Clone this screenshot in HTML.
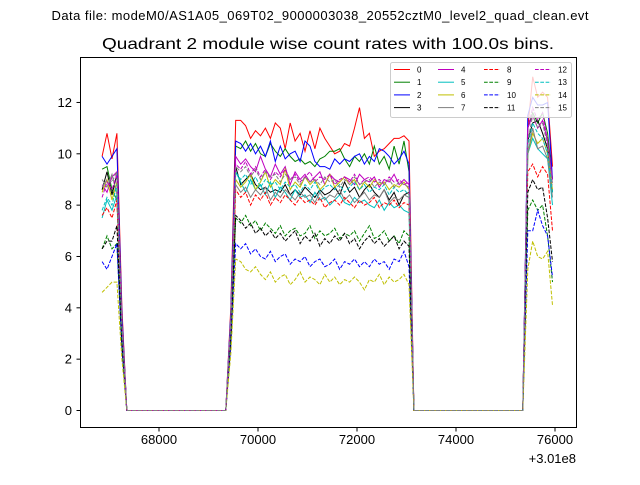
<!DOCTYPE html>
<html><head><meta charset="utf-8"><style>
body{margin:0;background:#fff;}
svg text{font-family:"Liberation Sans","DejaVu Sans",sans-serif;}
</style></head><body>
<svg id="chart" width="640" height="480" xmlns="http://www.w3.org/2000/svg">
<rect width="640" height="480" fill="#fff"/>
<text x="320" y="20" font-size="13" text-anchor="middle" textLength="537">Data file: modeM0/AS1A05_069T02_9000003038_20552cztM0_level2_quad_clean.evt</text>
<text x="328" y="49" font-size="16" text-anchor="middle" textLength="452" lengthAdjust="spacingAndGlyphs">Quadrant 2 module wise count rates with 100.0s bins.</text>
<g id="series"></g>
<rect x="80.5" y="57.5" width="496" height="370" fill="none" stroke="#000" stroke-width="1"/>
<g id="axes"></g>
<text x="576" y="463" font-size="13" text-anchor="end">+3.01e8</text>
<g id="legend"></g>
</svg>
<script>
const times=[66850,66950,67050,67150,67250,67350,69350,69450,69550,69650,69750,69850,69950,70050,70150,70250,70350,70450,70550,70650,70750,70850,70950,71050,71150,71250,71350,71450,71550,71650,71750,71850,71950,72050,72150,72250,72350,72450,72550,72650,72750,72850,72950,73050,73150,75350,75450,75550,75650,75750,75850,75950];
const xTicks=[68000,70000,72000,74000,76000];
const yTicks=[0,2,4,6,8,10,12];
const colors=["#ff0000","#008000","#0000ff","#000000","#bf00bf","#00bfbf","#bfbf00","#808080"];
const s0=[9.9,10.8,9.8,10.8,4.0,0,0,4.0,11.3,11.3,11.1,10.6,10.9,10.7,11.0,10.6,11.2,11.0,10.2,11.2,10.5,10.8,10.1,10.9,10.2,11.0,10.6,10.3,10.0,10.1,10.4,10.3,11.0,11.8,10.6,10.8,9.9,10.1,10.2,10.4,10.6,10.6,10.7,10.5,0,0,11.0,13.0,12.2,12.4,12.2,9.5];
const s1=[9.4,9.5,8.6,8.2,3.5,0,0,3.7,10.3,10.2,10.5,10.1,10.4,10.0,9.9,10.4,10.1,9.9,10.2,9.9,9.7,9.8,9.6,9.7,9.5,9.8,9.9,10.1,10.1,10.2,9.8,9.5,9.9,9.7,10.0,9.6,10.3,9.6,9.9,9.4,10.3,9.6,10.5,9.3,0,0,11.0,11.6,11.2,11.6,10.8,9.0];
const s2=[9.9,9.6,9.9,10.2,3.8,0,0,3.8,10.5,10.4,10.1,10.4,10.0,10.3,9.9,10.5,9.7,10.3,9.8,10.0,10.1,9.7,10.5,10.3,9.7,9.5,9.5,9.4,9.8,9.6,9.8,9.7,9.9,10.0,9.6,9.9,9.7,10.2,10.1,9.9,9.6,9.8,10.1,9.6,0,0,11.5,12.2,11.9,11.9,12.0,9.0];
const s3=[8.6,9.3,8.4,9.2,3.5,0,0,3.4,9.5,8.8,9.0,9.2,8.8,8.6,8.7,8.5,8.6,8.5,8.8,8.4,8.6,8.4,8.7,8.5,8.3,8.6,8.4,8.5,8.7,8.4,8.9,8.5,8.7,8.3,8.6,8.8,8.5,8.3,8.6,8.2,8.5,8.0,8.4,8.5,0,0,10.5,11.2,11.3,10.8,10.2,8.5];
const s4=[8.8,8.5,9.1,9.3,3.4,0,0,3.5,9.9,9.6,9.8,9.5,9.3,9.9,9.4,9.1,9.6,9.2,9.5,8.8,9.3,9.0,9.2,8.9,9.1,9.3,8.8,9.2,9.0,8.9,9.1,9.0,8.8,9.2,9.0,8.9,9.1,8.7,9.0,8.9,9.2,8.8,9.0,8.8,0,0,11.0,11.5,11.0,11.3,10.5,9.0];
const s5=[7.5,8.2,7.8,8.4,3.0,0,0,3.3,9.3,8.9,8.5,9.0,8.6,8.8,8.4,8.9,8.3,8.7,8.5,8.2,8.6,8.3,8.4,8.1,8.5,8.2,8.3,8.0,8.2,8.4,8.1,8.0,8.3,8.1,8.2,8.0,7.9,8.2,7.8,8.1,7.9,8.0,7.8,7.7,0,0,10.0,10.6,10.2,10.0,9.8,8.0];
const s6=[8.5,9.0,8.2,8.9,3.3,0,0,3.4,9.0,8.7,8.9,9.2,8.6,8.9,9.3,8.7,9.0,8.8,9.4,8.6,8.9,8.7,9.1,8.8,9.0,8.6,8.8,9.2,8.7,8.9,9.1,8.8,9.0,8.6,8.9,8.7,9.0,8.8,8.9,8.6,8.8,8.7,8.9,8.6,0,0,10.0,10.8,10.4,10.6,10.0,8.6];
const s7=[9.0,8.7,9.2,8.4,3.3,0,0,3.3,8.8,8.5,8.7,8.3,8.6,8.4,8.7,8.2,8.5,8.3,8.6,8.4,8.2,8.5,8.3,8.4,8.1,8.5,8.2,8.4,8.3,8.6,8.2,8.4,8.1,8.3,8.5,8.2,8.4,8.3,8.6,8.1,8.3,8.2,8.4,8.3,0,0,10.0,11.0,10.2,10.3,9.8,8.3];
const s8=[7.6,7.9,7.5,8.2,3.0,0,0,3.2,8.6,8.3,8.5,8.0,8.4,8.2,8.5,8.0,8.3,8.1,8.4,8.2,8.0,8.3,8.1,8.2,8.0,8.3,7.9,8.1,8.2,8.0,8.3,8.1,7.9,8.2,8.0,8.1,8.3,7.9,8.1,8.0,8.2,7.9,8.1,8.0,0,0,9.3,9.6,9.1,9.5,9.2,7.0];
const s9=[6.3,6.8,6.3,6.5,2.6,0,0,2.8,7.5,7.3,7.6,7.2,7.4,7.0,7.3,7.1,6.9,7.2,6.8,7.0,7.1,6.8,6.9,7.2,6.7,7.0,6.8,6.9,7.1,6.7,6.9,6.8,7.0,6.6,6.9,7.2,6.7,6.8,7.0,6.6,6.8,6.5,7.0,6.8,0,0,7.8,8.2,7.8,8.0,6.8,5.0];
const s10=[5.8,5.5,6.0,6.5,2.4,0,0,2.5,6.5,6.3,6.5,6.1,6.3,6.0,5.9,6.2,5.8,6.0,6.1,5.7,5.9,5.8,6.0,5.6,5.8,5.9,5.6,5.7,5.9,5.5,5.8,5.7,5.9,5.6,5.8,5.6,5.9,5.7,5.8,5.5,5.9,5.8,6.2,5.6,0,0,7.0,7.0,7.8,7.2,6.8,5.2];
const s11=[6.3,6.6,6.6,7.2,2.7,0,0,2.9,7.6,7.4,7.1,7.3,6.9,7.1,6.8,7.0,6.7,6.9,6.6,6.8,7.0,6.5,6.8,6.6,6.9,6.4,6.7,6.5,6.8,6.6,6.9,6.5,6.7,6.3,6.6,6.8,6.5,6.7,6.4,6.6,6.8,6.3,6.6,6.4,0,0,8.5,9.0,8.6,8.7,7.5,5.8];
const s12=[8.3,8.9,8.6,9.2,3.4,0,0,3.5,9.6,9.4,9.7,9.2,9.5,9.1,9.4,9.0,9.3,9.1,9.4,9.0,9.2,8.9,9.1,9.3,8.9,9.1,9.0,9.2,8.8,9.0,9.1,8.9,9.2,8.8,9.0,9.1,8.9,9.0,8.8,9.1,8.9,9.0,8.8,8.9,0,0,11.0,11.8,11.3,11.6,10.5,8.8];
const s13=[7.8,8.3,8.0,8.8,3.2,0,0,3.4,9.3,9.0,9.2,8.8,9.1,8.7,9.0,8.8,8.9,8.6,8.9,8.7,8.8,8.5,8.8,8.6,8.9,8.5,8.7,8.8,8.6,8.8,8.5,8.7,8.9,8.6,8.8,8.5,8.7,8.6,8.8,8.4,8.7,8.5,8.6,8.4,0,0,10.3,11.2,10.8,10.6,10.0,8.5];
const s14=[4.6,4.8,5.0,5.0,2.0,0,0,2.2,5.9,5.8,5.5,5.4,5.6,5.3,5.1,5.4,5.0,5.2,5.3,4.9,5.1,5.4,5.0,5.2,5.1,4.9,5.3,5.0,5.2,4.9,5.1,5.0,5.2,5.0,4.7,5.1,5.0,5.3,4.9,5.2,5.0,5.1,5.3,4.9,0,0,5.5,6.6,6.0,5.9,6.2,4.1];
const s15=[8.7,9.0,8.9,9.3,3.4,0,0,3.5,9.5,9.3,9.5,9.1,9.4,9.0,9.3,9.1,9.2,8.9,9.2,9.0,9.1,8.8,9.1,8.9,9.0,8.8,9.1,8.9,9.0,8.7,9.0,8.8,9.1,8.8,8.9,9.0,8.7,8.9,8.8,9.0,8.7,8.9,8.8,8.7,0,0,10.5,11.5,11.0,11.2,10.3,8.8];
const series=[s0,s1,s2,s3,s4,s5,s6,s7,s8,s9,s10,s11,s12,s13,s14,s15];

const X0=80.5,X1=576.5,Y0=57.5,Y1=427.5;
function xs(t){return 159+(t-68000)*0.0495;}
function ys(v){return 410.5-v*25.67;}
const NS="http://www.w3.org/2000/svg";
const g=document.getElementById('series');
series.forEach((vals,k)=>{
  const p=document.createElementNS(NS,'polyline');
  p.setAttribute('points',vals.map((v,i)=>xs(times[i]).toFixed(1)+','+ys(v).toFixed(1)).join(' '));
  p.setAttribute('fill','none');
  p.setAttribute('stroke',colors[k%8]);
  p.setAttribute('stroke-width','1');
  if(k>=8)p.setAttribute('stroke-dasharray','3.7,1.6');
  
  
  g.appendChild(p);
});
const ax=document.getElementById('axes');
xTicks.forEach(t=>{
  const x=xs(t);
  const l=document.createElementNS(NS,'line');
  l.setAttribute('x1',x);l.setAttribute('x2',x);l.setAttribute('y1',Y1);l.setAttribute('y2',Y1+4);
  l.setAttribute('stroke','#000');
  
  
  ax.appendChild(l);
  const tx=document.createElementNS(NS,'text');
  tx.setAttribute('x',x);tx.setAttribute('y',444);tx.setAttribute('font-size','13');tx.setAttribute('text-anchor','middle');
  tx.textContent=t;
  
  
  ax.appendChild(tx);
});
yTicks.forEach(v=>{
  const y=ys(v);
  const l=document.createElementNS(NS,'line');
  l.setAttribute('x1',X0-4);l.setAttribute('x2',X0);l.setAttribute('y1',y);l.setAttribute('y2',y);
  l.setAttribute('stroke','#000');
  
  
  ax.appendChild(l);
  const tx=document.createElementNS(NS,'text');
  tx.setAttribute('x',72);tx.setAttribute('y',y+4.5);tx.setAttribute('font-size','13');tx.setAttribute('text-anchor','end');
  tx.textContent=v;
  
  
  ax.appendChild(tx);
});
const lg=document.getElementById('legend');
const box=document.createElementNS(NS,'rect');
box.setAttribute('x',390.5);box.setAttribute('y',62.5);box.setAttribute('width',181);box.setAttribute('height',55);box.setAttribute('rx',2);
box.setAttribute('fill','rgba(255,255,255,0.8)');box.setAttribute('stroke','#ccc');


lg.appendChild(box);
const colX=[394,438,484,535];
for(let k=0;k<16;k++){
  const c=Math.floor(k/4),r=k%4;
  const y=69.5+r*12.7,x=colX[c];
  const l=document.createElementNS(NS,'line');
  l.setAttribute('x1',x);l.setAttribute('x2',x+16);l.setAttribute('y1',y);l.setAttribute('y2',y);
  l.setAttribute('stroke',colors[k%8]);l.setAttribute('stroke-width','1');
  if(k>=8)l.setAttribute('stroke-dasharray','3.7,1.6');
  
  
  lg.appendChild(l);
  const t=document.createElementNS(NS,'text');
  t.setAttribute('x',x+23);t.setAttribute('y',y+3);t.setAttribute('font-size','8');
  t.textContent=k;
  
  
  lg.appendChild(t);
}
</script>
</body></html>
